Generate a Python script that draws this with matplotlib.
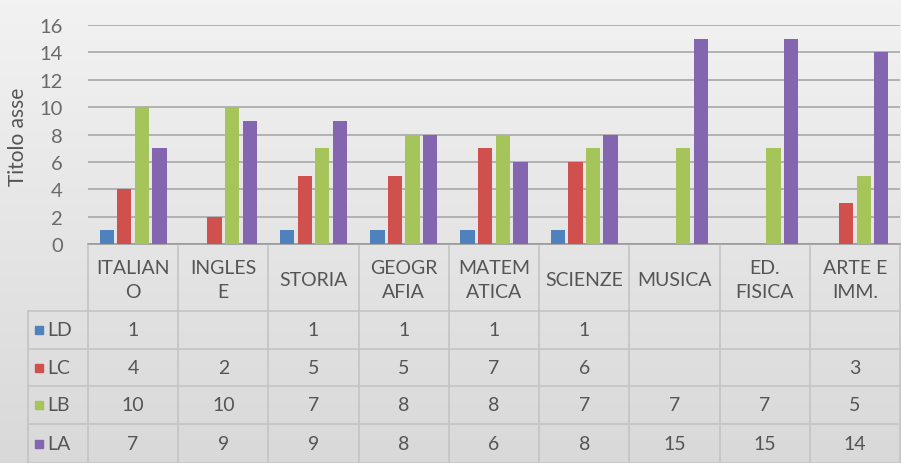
import matplotlib
matplotlib.use("Agg")
import matplotlib.pyplot as plt
import numpy as np

plt.rcParams["font.family"] = ["Lato", "DejaVu Sans"]

categories = ["ITALIAN\nO", "INGLES\nE", "STORIA", "GEOGR\nAFIA", "MATEM\nATICA",
              "SCIENZE", "MUSICA", "ED.\nFISICA", "ARTE E\nIMM."]
series_names = ["LD", "LC", "LB", "LA"]
LD = [1, None, 1, 1, 1, 1, None, None, None]
LC = [4, 2, 5, 5, 7, 6, None, None, 3]
LB = [10, 10, 7, 8, 8, 7, 7, 7, 5]
LA = [7, 9, 9, 8, 6, 8, 15, 15, 14]
series = [LD, LC, LB, LA]
colors = ["#4F81BD", "#D0504D", "#A5C45A", "#8466B0"]
yticks = [0, 2, 4, 6, 8, 10, 12, 14, 16]
ylabel = "Titolo asse"

W, H = 901, 464
fig = plt.figure(figsize=(W / 100, H / 100), dpi=100)

# background gradient
bg = fig.add_axes([0, 0, 1, 1], zorder=-10)
grad = np.linspace(0, 1, 256).reshape(-1, 1)
top = np.array([0.95, 0.95, 0.95])
bot = np.array([0.85, 0.85, 0.85])
img = top + (bot - top) * grad[..., None]
img = np.repeat(img, 2, axis=1)
bg.imshow(img, aspect="auto", extent=[0, 1, 0, 1], origin="upper")
bg.axis("off")

def fx(px):
    return px / W

def fy(py):
    return 1 - py / H

left_px, right_px = 88, 900
top_px, base_px = 26, 245
ax = fig.add_axes([fx(left_px), fy(base_px), (right_px - left_px) / W, (base_px - top_px) / H])
ax.set_facecolor("none")
n = len(categories)
x = np.arange(n)
step = 0.195
bw = 0.158
for i, (vals, c) in enumerate(zip(series, colors)):
    v = np.array([np.nan if s is None else s for s in vals], dtype=float)
    ax.bar(x + (i - 1.5) * step, v, width=bw, color=c, zorder=3)
ax.set_xlim(-0.5, n - 0.5)
ax.set_ylim(0, 16)
ax.set_yticks(yticks)
ax.set_yticklabels([str(t) for t in yticks], color="#6a6a6a", fontsize=14.5)
ax.tick_params(axis="y", length=0, pad=18)
ax.set_xticks([])
ax.yaxis.grid(True, color="#a8a8a8", linewidth=1.2, zorder=0)
for s in ["top", "right", "left"]:
    ax.spines[s].set_visible(False)
ax.spines["bottom"].set_color("#9a9a9a")
ax.spines["bottom"].set_linewidth(1.2)
fig.text(fx(18), fy(137), ylabel, rotation=90, ha="center", va="center",
         fontsize=15, color="#555555")

# data table
tab_top, head_bot, tab_bot = 247, 312, 464
tax = fig.add_axes([fx(left_px), 0, (right_px - left_px) / W, fy(tab_top)])
tax.set_xlim(-0.5, n - 0.5)
tax.set_ylim(tab_bot, tab_top)
tax.axis("off")
tax.set_facecolor("none")
lc = "#c4c4c4"
row_edges = [head_bot, 350, 387, 425, tab_bot]
for k in range(n + 1):
    tax.plot([k - 0.5, k - 0.5], [tab_top, tab_bot], color=lc, lw=1.2, clip_on=False)
col_w_px = (right_px - left_px) / n
leg_left = -0.5 - (left_px - 28) / col_w_px
tax.plot([leg_left, leg_left], [head_bot, tab_bot], color=lc, lw=1.2, clip_on=False)
for yy in row_edges:
    tax.plot([leg_left, n - 0.5], [yy, yy], color=lc, lw=1.2, clip_on=False)
for k, cat in enumerate(categories):
    tax.text(k, (tab_top + head_bot) / 2 + 1, cat, ha="center", va="center",
             fontsize=14, color="#555555", linespacing=1.45)
for r, (name, vals, c) in enumerate(zip(series_names, series, colors)):
    yc = (row_edges[r] + row_edges[r + 1]) / 2
    sq = -0.5 - (left_px - 39) / col_w_px
    tax.plot([sq], [yc], marker="s", markersize=6, color=c, clip_on=False, linestyle="none")
    tax.text(sq + 8 / col_w_px, yc, name, ha="left", va="center", fontsize=14,
             color="#555555", clip_on=False)
    for k, v in enumerate(vals):
        if v is not None:
            tax.text(k, yc, str(v), ha="center", va="center", fontsize=14, color="#555555")

fig.savefig("out.png", dpi=100)
